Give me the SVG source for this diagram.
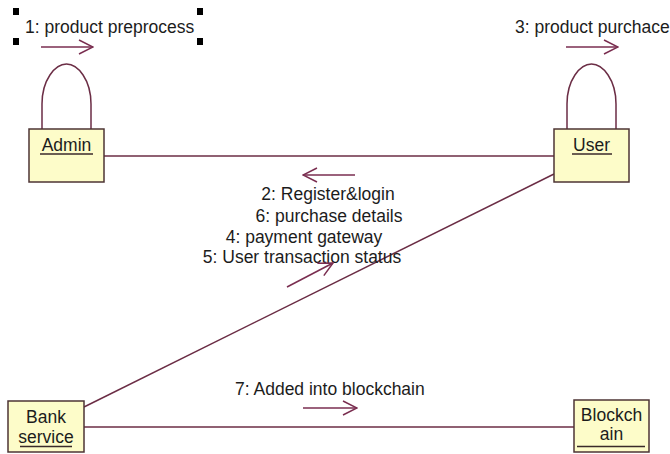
<svg xmlns="http://www.w3.org/2000/svg" width="670" height="454" viewBox="0 0 670 454">
<style>
  .box { fill: #fdfcc9; stroke: #4d3434; stroke-width: 1.5; }
  .lbl { font-family: "Liberation Sans", Arial, sans-serif; font-size: 17.5px; fill: #1c1c1c; }
  .mid { text-anchor: middle; }
  .ul { stroke: #3a2a2a; stroke-width: 1.5; }
  .conn { fill: none; stroke: #6b2d45; stroke-width: 1.5; }
  .msg { fill: none; stroke: #7a2e50; stroke-width: 1.5; marker-end: url(#open); }
  .handle { fill: #000; }
</style>
<defs>
  <marker id="open" markerUnits="userSpaceOnUse" viewBox="0 0 16 16" markerWidth="16" markerHeight="16" refX="15" refY="8" orient="auto">
    <path d="M1,1 L15,8 L1,15" fill="none" stroke="#7a2e50" stroke-width="1.5"/>
  </marker>
</defs>
<rect width="670" height="454" fill="#ffffff"/>

<g id="connectors">
  <line class="conn" x1="104" y1="156" x2="554" y2="156"/>
  <line class="conn" x1="554" y1="174" x2="84" y2="407"/>
  <line class="conn" x1="84" y1="427" x2="574" y2="427"/>
  <path class="conn" d="M42,129 L42,104 C42,80 55,64 66.5,64 C78,64 91,80 91,104 L91,129"/>
  <path class="conn" d="M567,129 L567,104 C567,80 580,64 591.5,64 C603,64 616,80 616,104 L616,129"/>
</g>

<g id="messages">
  <g id="msg1">
    <rect class="handle" x="13" y="8" width="6" height="7"/>
    <rect class="handle" x="197" y="8" width="6" height="7"/>
    <rect class="handle" x="13" y="38" width="6" height="7"/>
    <rect class="handle" x="197" y="38" width="6" height="7"/>
    <text class="lbl" x="25" y="33">1: product preprocess</text>
    <line class="msg" x1="41" y1="47" x2="93" y2="47"/>
  </g>
  <g id="msg3">
    <text class="lbl" x="515" y="33">3: product purchace</text>
    <line class="msg" x1="566" y1="47" x2="618" y2="47"/>
  </g>
  <g id="msg2-6">
    <line class="msg" x1="355" y1="175" x2="303" y2="175"/>
    <text class="lbl mid" x="328" y="200">2: Register&amp;login</text>
    <text class="lbl mid" x="329" y="222">6: purchase details</text>
  </g>
  <g id="msg4-5">
    <text class="lbl mid" x="304" y="243">4: payment gateway</text>
    <text class="lbl mid" x="302" y="263">5: User transaction status</text>
    <line class="msg" x1="287" y1="287" x2="333" y2="263"/>
  </g>
  <g id="msg7">
    <text class="lbl" x="235" y="395">7: Added into blockchain</text>
    <line class="msg" x1="303" y1="408" x2="357" y2="408"/>
  </g>
</g>

<g id="admin">
  <rect class="box" x="29" y="129" width="75" height="53"/>
  <text class="lbl mid" x="66.5" y="151">Admin</text>
  <line class="ul" x1="40" y1="154" x2="93" y2="154"/>
</g>
<g id="user">
  <rect class="box" x="554" y="129" width="75" height="53"/>
  <text class="lbl mid" x="591.5" y="151">User</text>
  <line class="ul" x1="572" y1="154" x2="612" y2="154"/>
</g>
<g id="bank">
  <rect class="box" x="8" y="401" width="76" height="51"/>
  <text class="lbl mid" x="46" y="423">Bank</text>
  <text class="lbl mid" x="46" y="443">service</text>
  <line class="ul" x1="20" y1="446.5" x2="72" y2="446.5"/>
</g>
<g id="blockchain">
  <rect class="box" x="574" y="400" width="75" height="52"/>
  <text class="lbl mid" x="611.5" y="421">Blockch</text>
  <text class="lbl mid" x="611.5" y="440">ain</text>
  <line class="ul" x1="577" y1="446.5" x2="645" y2="446.5"/>
</g>
</svg>
